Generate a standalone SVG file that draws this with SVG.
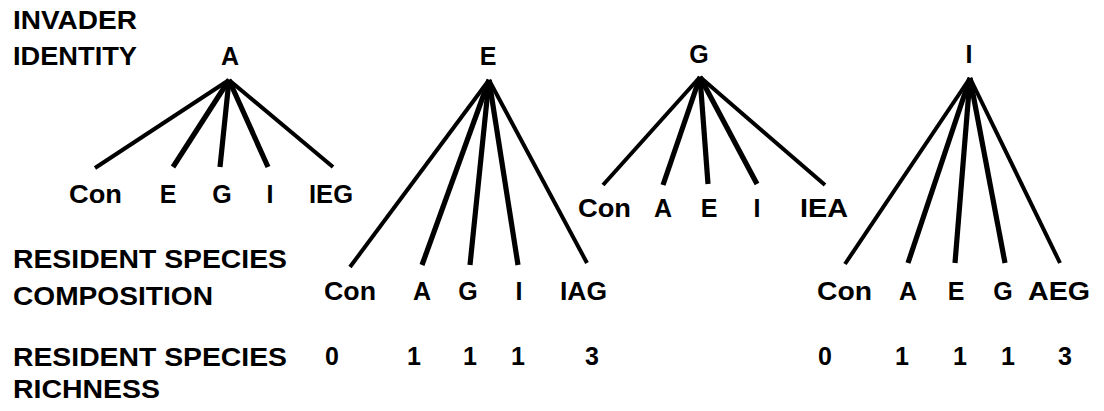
<svg xmlns="http://www.w3.org/2000/svg" width="1104" height="411" viewBox="0 0 1104 411">
  <style>
    text { font-family: "Liberation Sans", Arial, Helvetica, sans-serif; font-weight: bold; font-size: 25px; fill: #000; }
    .c { text-anchor: middle; }
    .edge { stroke: #000; stroke-width: 4; fill: none; stroke-linecap: butt; }
    .edge.mid { stroke-width: 5.2; }
  </style>
  <rect width="1104" height="411" fill="#fff"/>

  <!-- row headings -->
  <g id="headings">
    <text x="13" y="29" textLength="124" lengthAdjust="spacingAndGlyphs">INVADER</text>
    <text x="13" y="65" textLength="124" lengthAdjust="spacingAndGlyphs">IDENTITY</text>
    <text x="13" y="268" textLength="274" lengthAdjust="spacingAndGlyphs">RESIDENT SPECIES</text>
    <text x="13" y="305" textLength="200" lengthAdjust="spacingAndGlyphs">COMPOSITION</text>
    <text x="13" y="366" textLength="274" lengthAdjust="spacingAndGlyphs">RESIDENT SPECIES</text>
    <text x="13" y="398" textLength="147" lengthAdjust="spacingAndGlyphs">RICHNESS</text>
  </g>

  <!-- connectors: each invader fans out to its resident communities -->
  <g id="connectors">
    <line class="edge" x1="229" y1="80" x2="95" y2="168"/>
    <line class="edge mid" x1="229" y1="80" x2="173" y2="167"/>
    <line class="edge mid" x1="229" y1="80" x2="220" y2="167"/>
    <line class="edge mid" x1="229" y1="80" x2="268" y2="167"/>
    <line class="edge" x1="229" y1="80" x2="333" y2="167"/>

    <line class="edge" x1="489" y1="80" x2="350" y2="267"/>
    <line class="edge mid" x1="489" y1="80" x2="422" y2="265"/>
    <line class="edge mid" x1="489" y1="80" x2="470" y2="265"/>
    <line class="edge mid" x1="489" y1="80" x2="518" y2="265"/>
    <line class="edge" x1="489" y1="80" x2="587" y2="263"/>

    <line class="edge" x1="700" y1="77" x2="603" y2="185"/>
    <line class="edge mid" x1="700" y1="77" x2="663" y2="185"/>
    <line class="edge mid" x1="700" y1="77" x2="708" y2="184"/>
    <line class="edge mid" x1="700" y1="77" x2="757" y2="184"/>
    <line class="edge" x1="700" y1="77" x2="825" y2="185"/>

    <line class="edge" x1="970" y1="78" x2="845" y2="264"/>
    <line class="edge mid" x1="970" y1="78" x2="908" y2="263"/>
    <line class="edge mid" x1="970" y1="78" x2="955" y2="263"/>
    <line class="edge mid" x1="970" y1="78" x2="1005" y2="263"/>
    <line class="edge" x1="970" y1="78" x2="1060" y2="263"/>
  </g>

  <!-- invader A -->
  <g id="invader-A">
    <text class="c" x="230" y="65">A</text>
  </g>
  <g id="A-res-Con"><text x="69" y="203" textLength="53" lengthAdjust="spacingAndGlyphs">Con</text></g>
  <g id="A-res-E"><text class="c" x="168" y="203">E</text></g>
  <g id="A-res-G"><text class="c" x="222" y="203">G</text></g>
  <g id="A-res-I"><text class="c" x="270" y="203">I</text></g>
  <g id="A-res-IEG"><text x="309" y="203" textLength="44" lengthAdjust="spacingAndGlyphs">IEG</text></g>

  <!-- invader E -->
  <g id="invader-E">
    <text class="c" x="488" y="65">E</text>
  </g>
  <g id="E-res-Con"><text x="324" y="300" textLength="52" lengthAdjust="spacingAndGlyphs">Con</text></g>
  <g id="E-res-A"><text class="c" x="422" y="300">A</text></g>
  <g id="E-res-G"><text class="c" x="468" y="300">G</text></g>
  <g id="E-res-I"><text class="c" x="519" y="300">I</text></g>
  <g id="E-res-IAG"><text x="560" y="300" textLength="47" lengthAdjust="spacingAndGlyphs">IAG</text></g>

  <!-- invader G -->
  <g id="invader-G">
    <text class="c" x="699" y="63">G</text>
  </g>
  <g id="G-res-Con"><text x="578" y="217" textLength="53" lengthAdjust="spacingAndGlyphs">Con</text></g>
  <g id="G-res-A"><text class="c" x="663" y="217">A</text></g>
  <g id="G-res-E"><text class="c" x="709" y="217">E</text></g>
  <g id="G-res-I"><text class="c" x="757" y="217">I</text></g>
  <g id="G-res-IEA"><text x="800" y="217" textLength="48" lengthAdjust="spacingAndGlyphs">IEA</text></g>

  <!-- invader I -->
  <g id="invader-I">
    <text class="c" x="969" y="63">I</text>
  </g>
  <g id="I-res-Con"><text x="817" y="300" textLength="55" lengthAdjust="spacingAndGlyphs">Con</text></g>
  <g id="I-res-A"><text class="c" x="908" y="300">A</text></g>
  <g id="I-res-E"><text class="c" x="956" y="300">E</text></g>
  <g id="I-res-G"><text class="c" x="1003" y="300">G</text></g>
  <g id="I-res-AEG"><text x="1028" y="300" textLength="62" lengthAdjust="spacingAndGlyphs">AEG</text></g>

  <!-- resident species richness -->
  <g id="richness">
    <text class="c" x="332" y="365">0</text>
    <text class="c" x="414" y="365">1</text>
    <text class="c" x="470" y="365">1</text>
    <text class="c" x="518" y="365">1</text>
    <text class="c" x="592" y="365">3</text>
    <text class="c" x="825" y="365">0</text>
    <text class="c" x="902" y="365">1</text>
    <text class="c" x="960" y="365">1</text>
    <text class="c" x="1008" y="365">1</text>
    <text class="c" x="1065" y="365">3</text>
  </g>
</svg>
